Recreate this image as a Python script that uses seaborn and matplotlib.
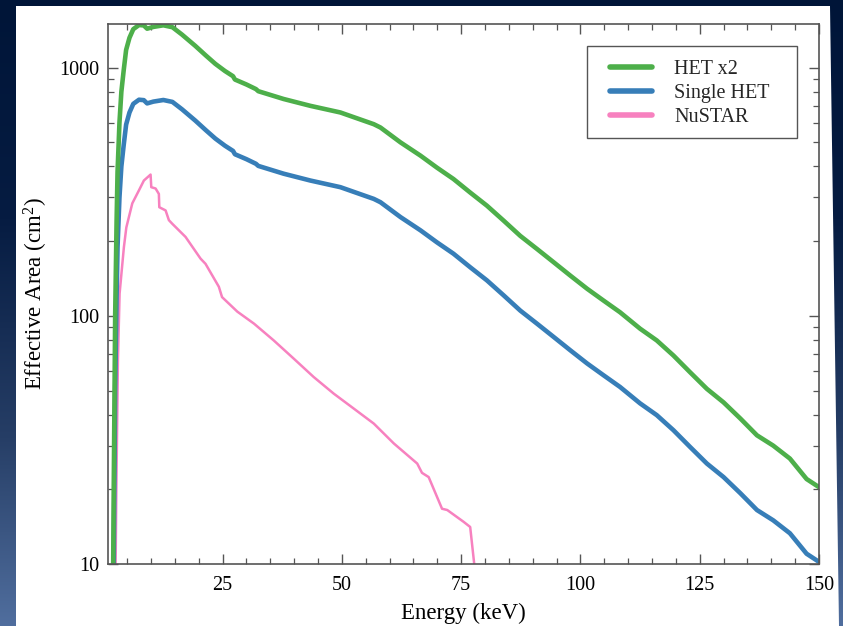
import numpy as np
import pandas as pd
import matplotlib
matplotlib.use("Agg")
import matplotlib.pyplot as plt
from matplotlib.patches import Polygon, Rectangle
from matplotlib.ticker import FixedLocator, MultipleLocator, LogLocator, NullFormatter, FuncFormatter
import seaborn as sns

# ---------------- data ----------------
energy_het = [2.05, 2.2, 2.5, 2.8, 3.0, 3.4, 3.8, 4.3, 4.8, 5.5, 6.3, 7.5, 8.5, 9.2,
              10.5, 12.6, 14.5, 16.5, 19.3, 21.5, 23.5, 25.5, 27.2, 27.6, 30.0,
              32.0, 32.5, 37.8, 43.4, 49.7, 56.7, 58.1, 62.3, 66.5, 69.9, 73.4,
              76.9, 80.4, 83.9, 87.4, 90.9, 94.4, 97.9, 101.4, 104.8, 108.3,
              112.5, 116.0, 119.5, 123.0, 126.5, 130.0, 133.5, 137.0, 140.4,
              143.9, 147.4, 150.0]
single_het = [4, 10, 50, 120, 190, 300, 400, 490, 590, 660, 715, 743, 740, 718,
              730, 741, 728, 680, 612, 560, 518, 485, 462, 448, 428,
              410, 402, 374, 351, 330, 296, 287, 250, 221, 198, 178,
              157, 139, 121, 105, 93, 82.2, 72.6, 64.3, 57.7, 51.7,
              44.4, 39.8, 34.6, 29.6, 25.4, 22.4, 19.3, 16.5, 15.0,
              13.3, 11.0, 10.2]
het_x2 = [8, 20, 100, 240, 380, 600, 800, 980, 1180, 1320, 1430, 1486, 1480, 1436,
          1460, 1482, 1456, 1360, 1224, 1120, 1036, 970, 924, 896, 856,
          820, 804, 748, 702, 660, 592, 574, 500, 442, 396, 356,
          314, 278, 242, 210, 186, 164.4, 145.2, 128.6, 115.4, 103.4,
          88.8, 79.6, 69.2, 59.2, 50.8, 44.8, 38.6, 33.0, 30.0,
          26.6, 22.0, 20.4]

energy_nustar = [2.55, 2.74, 3.08, 3.43, 4.33, 4.84, 6.09, 7.47, 8.52, 9.92, 10.07,
                 10.97, 11.66, 11.75, 13.07, 13.76, 14.47, 17.25, 20.4, 21.44,
                 24.23, 24.9, 28.1, 31.6, 35.7, 39.9, 44.1, 48.3, 52.5, 56.7,
                 60.9, 65.8, 66.8, 68.2, 71.0, 72.1, 75.5, 76.9, 78.3]
nustar = [8, 19.3, 66.2, 123, 189, 227, 284, 320, 351, 371, 330,
          326, 310, 274, 266, 243, 235, 208, 170, 162,
          131, 119, 104, 93, 79.7, 67.3, 56.7, 48.6, 42.3, 36.8,
          30.6, 25.4, 23.3, 22.4, 16.7, 16.5, 14.8, 14.1, 8]

series_names = ["HET x2", "Single HET", "NuSTAR"]
x_major = [25, 50, 75, 100, 125, 150]
y_major = [10, 100, 1000]

# ---------------- style ----------------
sns.set_theme(style="ticks")
plt.rcParams['font.family'] = ['Liberation Serif', 'DejaVu Serif']
plt.rcParams['mathtext.fontset'] = 'custom'
plt.rcParams['mathtext.rm'] = 'Liberation Serif'
plt.rcParams['mathtext.it'] = 'Liberation Serif:italic'

pal = sns.color_palette("Set1")
colors = {"HET x2": pal[2], "Single HET": pal[1], "NuSTAR": pal[7]}

W, H = 843, 626
fig = plt.figure(figsize=(W / 100, H / 100), dpi=100)

# background gradient (slide)
bg = fig.add_axes([0, 0, 1, 1], zorder=-10)
stops_t = [0.0, 0.35, 0.7, 1.0]
stops_c = np.array([[0, 21, 56], [6, 28, 66], [38, 62, 102], [80, 110, 158]]) / 255.0
t = np.linspace(0, 1, 300)
grad = np.stack([np.interp(t, stops_t, stops_c[:, k]) for k in range(3)], axis=-1)
grad = np.repeat(grad[:, None, :], 2, axis=1)
bg.imshow(grad, aspect='auto', extent=[0, 1, 0, 1], origin='upper')
bg.add_patch(Polygon([[16 / W, 1 - 6 / H], [830 / W, 1 - 6 / H], [839 / W, 0], [16 / W, 0]],
                     closed=True, facecolor='white', edgecolor='none', transform=bg.transAxes))
bg.set_xlim(0, 1); bg.set_ylim(0, 1)
bg.axis('off')

ax = fig.add_axes([108 / W, 1 - 564 / H, (819 - 108) / W, (564 - 24) / H])
ax.set_facecolor('none')

df_het = pd.DataFrame({"Energy": energy_het * 2,
                       "Area": single_het + het_x2,
                       "Instrument": ["Single HET"] * len(single_het) + ["HET x2"] * len(het_x2)})
df_nu = pd.DataFrame({"Energy": energy_nustar, "Area": nustar, "Instrument": "NuSTAR"})

sns.lineplot(data=df_nu, x="Energy", y="Area", color=colors["NuSTAR"], lw=1.8,
             sort=False, estimator=None, ax=ax, label="NuSTAR")
sns.lineplot(data=df_het[df_het.Instrument == "Single HET"], x="Energy", y="Area",
             color=colors["Single HET"], lw=3.3, sort=False, estimator=None, ax=ax, label="Single HET")
sns.lineplot(data=df_het[df_het.Instrument == "HET x2"], x="Energy", y="Area",
             color=colors["HET x2"], lw=3.3, sort=False, estimator=None, ax=ax, label="HET x2")

ax.set_yscale('log')
ax.set_xlim(1, 150)
ax.set_ylim(10, 1500)

ax.xaxis.set_major_locator(FixedLocator(x_major))
ax.xaxis.set_minor_locator(MultipleLocator(5))
ax.yaxis.set_major_locator(FixedLocator(y_major))
ax.yaxis.set_minor_locator(LogLocator(base=10, subs=np.arange(2, 10)))
ax.yaxis.set_minor_formatter(NullFormatter())
ax.yaxis.set_major_formatter(FuncFormatter(lambda v, p: f"{int(v)}"))

spine_c = '#555555'
for s in ax.spines.values():
    s.set_color(spine_c)
    s.set_linewidth(1.2)
ax.tick_params(which='both', direction='in', top=True, right=True, colors=spine_c,
               labelcolor='black', labelsize=14.5)
ax.tick_params(which='major', length=7, width=1.0)
ax.tick_params(which='minor', length=4, width=0.9)
ax.tick_params(axis='x', which='major', pad=9)
ax.tick_params(axis='y', which='major', pad=6)

ax.set_xlabel("Energy (keV)", fontsize=16.5, color='black', labelpad=5)
ax.set_ylabel("Effective Area (cm$^2$)", fontsize=16.5, color='black', labelpad=7)

# legend frame (drawn as a box) + frameless legend inside
frame = Rectangle((587 / W, 1 - 138 / H), (797 - 587) / W, (138 - 46) / H,
                  transform=fig.transFigure, facecolor='white', edgecolor='#555555',
                  linewidth=1.0, zorder=4)
ax.add_artist(frame)
handles, labels = ax.get_legend_handles_labels()
order = [labels.index(n) for n in series_names]
leg = ax.legend([handles[i] for i in order], [labels[i] for i in order],
                loc='upper left', bbox_to_anchor=(610 / W, 1 - 60 / H),
                bbox_transform=fig.transFigure, borderaxespad=0, borderpad=0,
                fontsize=14.5, frameon=False, handlelength=2.1, handletextpad=1.1,
                labelspacing=0.24)
leg.set_zorder(5)
for lh in leg.get_lines():
    lh.set_linewidth(4)

fig.savefig("out.png", dpi=100)
